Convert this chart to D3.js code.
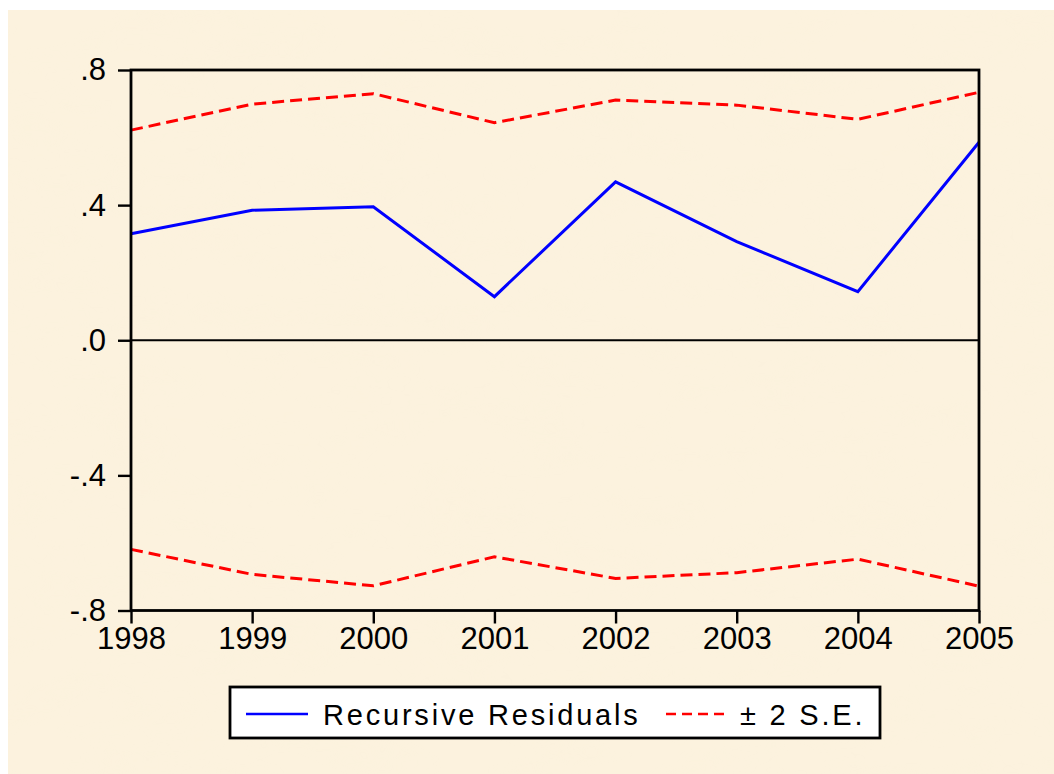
<!DOCTYPE html>
<html>
<head>
<meta charset="utf-8">
<script src="https://cdn.jsdelivr.net/npm/d3@7"></script>
<style>
  html, body { margin: 0; padding: 0; background: #fff; }
  svg { display: block; }
  svg text { font-family: "Liberation Sans", Arial, sans-serif; }
</style>
</head>
<body>
<div id="chart"></div>
<script>
// values
const years = [1998, 1999, 2000, 2001, 2002, 2003, 2004, 2005];
const residuals = [0.315, 0.385, 0.395, 0.129, 0.469, 0.292, 0.144, 0.586];
const upperSE = [0.622, 0.699, 0.730, 0.644, 0.711, 0.696, 0.654, 0.734];
const lowerSE = [-0.619, -0.693, -0.727, -0.641, -0.705, -0.688, -0.648, -0.728];
const yTicks = [0.8, 0.4, 0.0, -0.4, -0.8];

const W = 1054, H = 774;
const plot = { left: 131, right: 979, top: 70, bottom: 610.5 };
const FONT = "'Liberation Sans', Arial, sans-serif";

const svg = d3.select("#chart").append("svg")
  .attr("width", W).attr("height", H);

// textured beige background
const defs = svg.append("defs");
const filt = defs.append("filter").attr("id", "paper")
  .attr("x", 0).attr("y", 0).attr("width", "100%").attr("height", "100%");
filt.append("feTurbulence").attr("type", "fractalNoise")
  .attr("baseFrequency", "0.012 0.03").attr("numOctaves", 3).attr("seed", 4);
filt.append("feColorMatrix").attr("type", "matrix")
  .attr("values", "0 0 0 0 0.95  0 0 0 0 0.88  0 0 0 0 0.70  0 0 0 1.1 -0.45");

svg.append("rect").attr("x", 8).attr("y", 10)
  .attr("width", W - 8).attr("height", H - 10)
  .attr("fill", "#fcf2de");
svg.append("rect").attr("x", 8).attr("y", 10)
  .attr("width", W - 8).attr("height", H - 10)
  .attr("filter", "url(#paper)").attr("opacity", 0.25);

const x = d3.scaleLinear().domain([1998, 2005]).range([plot.left, plot.right]);
const y = d3.scaleLinear().domain([-0.8, 0.8]).range([plot.bottom, plot.top]);

const fmt = d => d === 0 ? ".0" : (d < 0 ? "-" : "") + "." + Math.round(Math.abs(d) * 10);

// left axis
const yAxis = svg.append("g")
  .attr("transform", `translate(${plot.left},0)`)
  .call(d3.axisLeft(y).tickValues(yTicks).tickFormat(fmt).tickSize(13).tickPadding(12));
yAxis.attr("font-family", null);
yAxis.select(".domain").remove();
yAxis.selectAll(".tick line").attr("stroke", "#000").attr("stroke-width", 2.4);
yAxis.selectAll(".tick text").attr("font-size", 31).attr("fill", "#000")
  .style("font-family", FONT);

// bottom axis
const xAxis = svg.append("g")
  .attr("transform", `translate(0,${plot.bottom})`)
  .call(d3.axisBottom(x).tickValues(years).tickFormat(d3.format("d")).tickSize(13).tickPadding(3));
xAxis.attr("font-family", null);
xAxis.select(".domain").remove();
xAxis.selectAll(".tick line").attr("stroke", "#000").attr("stroke-width", 2.4);
xAxis.selectAll(".tick text").attr("font-size", 31).attr("fill", "#000")
  .style("font-family", FONT);

// zero line
svg.append("line")
  .attr("x1", plot.left).attr("x2", plot.right)
  .attr("y1", y(0)).attr("y2", y(0))
  .attr("stroke", "#000").attr("stroke-width", 2.2);

const line = d3.line().x((d, i) => x(years[i])).y(d => y(d));

svg.append("path").datum(upperSE).attr("d", line)
  .attr("fill", "none").attr("stroke", "#ff0000").attr("stroke-width", 3)
  .attr("stroke-dasharray", "12,6");
svg.append("path").datum(lowerSE).attr("d", line)
  .attr("fill", "none").attr("stroke", "#ff0000").attr("stroke-width", 3)
  .attr("stroke-dasharray", "12,6");
svg.append("path").datum(residuals).attr("d", line)
  .attr("fill", "none").attr("stroke", "#0000ff").attr("stroke-width", 3)
  .attr("stroke-linejoin", "miter");

// frame
svg.append("rect")
  .attr("x", plot.left).attr("y", plot.top)
  .attr("width", plot.right - plot.left).attr("height", plot.bottom - plot.top)
  .attr("fill", "none").attr("stroke", "#000").attr("stroke-width", 2.8);

// legend
const legend = svg.append("g");
legend.append("rect")
  .attr("x", 230).attr("y", 687).attr("width", 650).attr("height", 51)
  .attr("fill", "#fff").attr("stroke", "#000").attr("stroke-width", 2.8);
legend.append("line")
  .attr("x1", 246).attr("x2", 308).attr("y1", 714).attr("y2", 714)
  .attr("stroke", "#0000ff").attr("stroke-width", 2.6);
legend.append("text")
  .attr("x", 323).attr("y", 725)
  .attr("font-size", 29).attr("letter-spacing", 2.8)
  .style("font-family", FONT)
  .text("Recursive Residuals");
legend.append("line")
  .attr("x1", 666).attr("x2", 727).attr("y1", 714).attr("y2", 714)
  .attr("stroke", "#ff0000").attr("stroke-width", 2.6)
  .attr("stroke-dasharray", "10,6");
legend.append("text")
  .attr("x", 740).attr("y", 725)
  .attr("font-size", 29).attr("letter-spacing", 2.8)
  .style("font-family", FONT)
  .text("± 2 S.E.");
</script>
</body>
</html>
